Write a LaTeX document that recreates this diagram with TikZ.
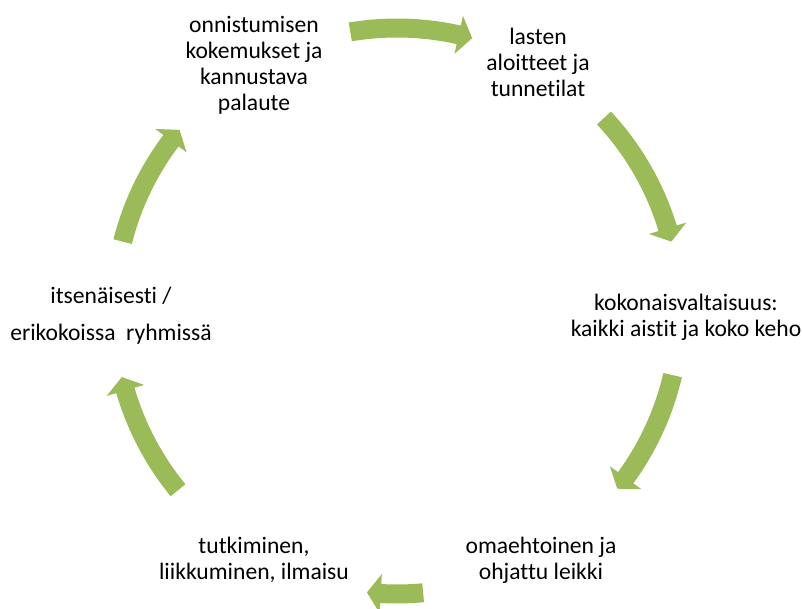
\documentclass[tikz,border=0pt]{standalone}
\usepackage{fontspec}
\setmainfont[Ligatures={NoCommon,NoRare,NoContextual}]{Carlito}
\definecolor{smartgreen}{HTML}{9BBB59}
\tikzset{
  cycletext/.style={align=center, inner sep=0pt, text=black, font=\fontsize{17.7}{19.5}\selectfont},
  arrowfill/.style={fill=smartgreen, draw=none}
}
% tail angle, tip angle (arrow runs clockwise)
\newcommand{\cycarrow}[2]{%
  \pgfmathsetmacro{\hb}{#2+2.8}%
  \fill[arrowfill] (#1:292.5) arc[start angle=#1, end angle=\hb, radius=292.5]
    -- (\hb:302.5) -- (#2:283) -- (\hb:263.5) -- (\hb:273.5)
    arc[start angle=\hb, end angle=#1, radius=273.5] -- cycle;%
}
\begin{document}
\begin{tikzpicture}[x=0.75pt,y=0.75pt]
\useasboundingbox (0,0) rectangle (802,-609);
\begin{scope}[shift={(397,-311)}]
  \cycarrow{99.5}{74.6}
  \cycarrow{43.0}{14.2}
  \cycarrow{-13.1}{-38.9}
  \cycarrow{275.3}{263.9}
  \cycarrow{219.3}{193.5}
  \cycarrow{165.8}{140.2}
\end{scope}
\node[cycletext] (n1) at (254,-65) {onnistumisen\\kokemukset ja\\kannustava\\palaute};
\node[cycletext] (n2) at (538,-62) {lasten\\aloitteet ja\\tunnetilat};
\node[cycletext] (n3) at (686,-317) {kokonaisvaltaisuus:\\kaikki aistit ja koko keho};
\node[cycletext] (n4) at (541,-560) {omaehtoinen ja\\ohjattu leikki};
\node[cycletext] (n5) at (254,-560) {tutkiminen,\\liikkuminen, ilmaisu};
\node[cycletext] (n6) at (111,-316) {itsenäisesti /\\[8pt]erikokoissa\ \ ryhmissä};
\end{tikzpicture}
\end{document}
